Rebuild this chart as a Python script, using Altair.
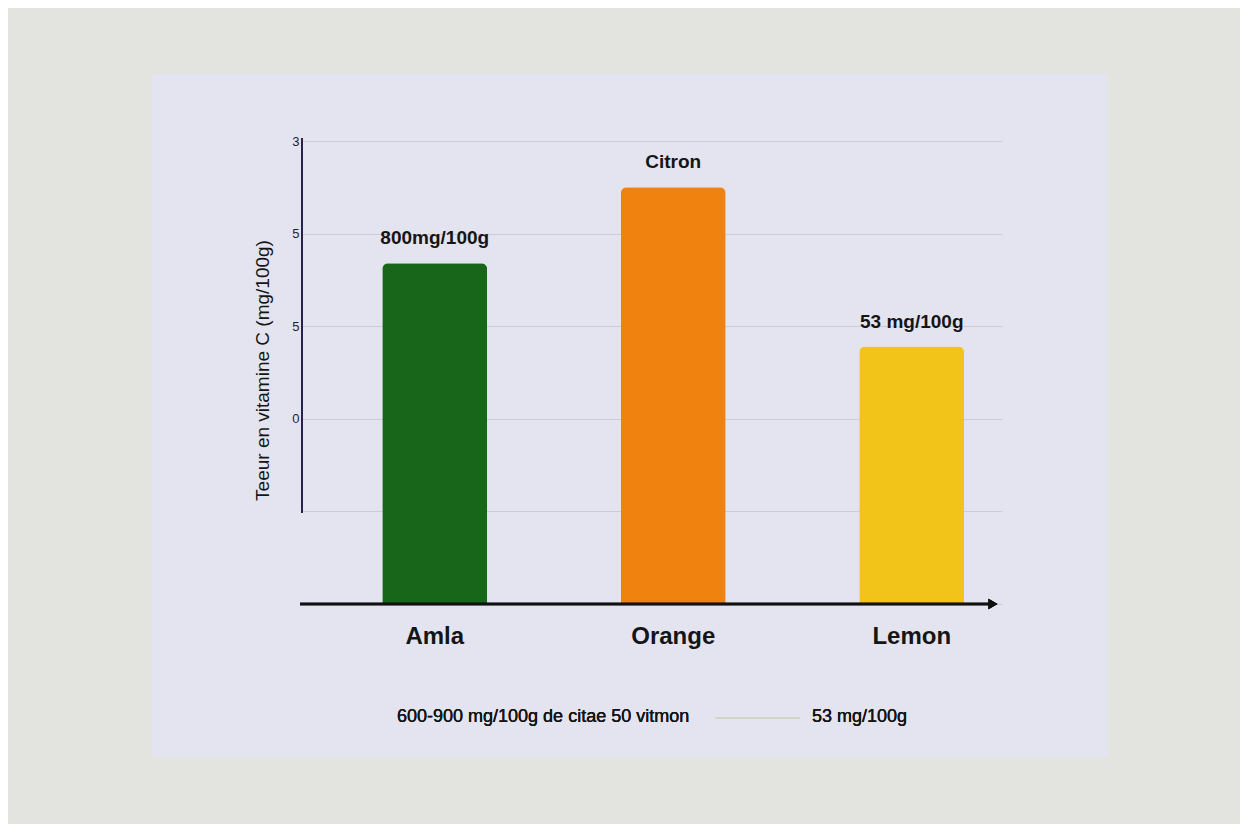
import altair as alt
import pandas as pd


'''
Data read off the picture
'''
fruits = ['Amla', 'Orange', 'Lemon']
values = [3.68, 4.5, 2.78]
bar_labels = ['800mg/100g', 'Citron', '53 mg/100g']
bar_colors = ['#17661a', '#f0820f', '#f2c318']

tick_values = [0, 1, 2, 3, 4, 5]
tick_labels = ['', '', '0', '5', '5', '3']

footer_left = '600-900 mg/100g de citae 50 vitmon'
footer_right = '53 mg/100g'

df = pd.DataFrame({
  'Fruit': fruits,
  'Valeur': values,
  'Label': bar_labels,
})

# labelExpr built from the tick lists
label_expr = "''"
for v, t in zip(tick_values, tick_labels):
  label_expr = f"datum.value == {v} ? '{t}' : ({label_expr})"

PAPER = '#e3e4ef'
TABLE = '#e3e3df'
FONT = 'Liberation Sans'

x_enc = alt.X(
  'Fruit:N',
  sort=fruits,
  title=None,
  scale=alt.Scale(paddingInner=0.56, paddingOuter=0.2475, align=0.68),
  axis=alt.Axis(
    domain=False, ticks=False, grid=False, labelAngle=0,
    labelFontSize=24, labelFont=FONT, labelFontWeight='bold',
    labelColor='#151515', labelPadding=20
  )
)

y_enc = alt.Y(
  'Valeur:Q',
  scale=alt.Scale(domain=[0, 5], nice=False),
  axis=alt.Axis(
    values=tick_values, labelExpr=label_expr, domain=False, ticks=False,
    grid=True, gridColor='#cbccd5', gridWidth=1.2,
    labelFontSize=13, labelFont=FONT, labelColor='#1c1c3a', labelPadding=3,
    title='Teeur en vitamine C (mg/100g)', titleFontSize=19, titleFont=FONT,
    titleFontWeight='normal', titleColor='#151515',
    titleAngle=-90, titleX=-40, titleY=229, titleAlign='center',
    titleBaseline='middle'
  )
)

# Table surface around the paper sheet (the sheet itself is the background)
frame_df = pd.DataFrame({
  'x': [-302, -302, -302, 806],
  'x2': [946, 946, -150, 946],
  'y': [-141, 616, -67, -67],
  'y2': [-67, 691, 616, 616],
})
frame = alt.Chart(frame_df).mark_rect(color=TABLE).encode(
  x=alt.X('x:Q', scale=None), x2='x2:Q',
  y=alt.Y('y:Q', scale=None), y2='y2:Q'
)

bars = alt.Chart(df).mark_bar(
  cornerRadiusTopLeft=6, cornerRadiusTopRight=6
).encode(
  x=x_enc,
  y=y_enc,
  color=alt.Color('Fruit:N', scale=alt.Scale(domain=fruits, range=bar_colors), legend=None)
)

text = alt.Chart(df).mark_text(
  dy=-25, fontSize=19, font=FONT, fontWeight='bold', color='#151515'
).encode(
  x=alt.X('Fruit:N', sort=fruits),
  y='Valeur:Q',
  text='Label:N'
)

# Axis lines drawn by hand: y line stops short, x line ends in an arrow
y_line = alt.Chart(df).mark_rule(color='#20204a', strokeWidth=1.5).encode(
  x=alt.value(0), y=alt.value(-3), y2=alt.value(372)
)
x_line = alt.Chart(df).mark_rule(color='#111111', strokeWidth=2.5).encode(
  x=alt.value(-2), x2=alt.value(690), y=alt.value(463)
)
arrow = alt.Chart(df).mark_point(
  shape='triangle-right', filled=True, color='#111111', size=110, opacity=1
).encode(
  x=alt.value(691), y=alt.value(463)
)

footer_a = alt.Chart(df).mark_text(
  align='left', baseline='middle', fontSize=18, font=FONT, color='#151515'
).encode(
  x=alt.value(95), y=alt.value(576), text=alt.value(footer_left)
)
footer_line = alt.Chart(df).mark_rule(color='#cfd3c2', strokeWidth=1.2).encode(
  x=alt.value(413), x2=alt.value(498), y=alt.value(577)
)
footer_b = alt.Chart(df).mark_text(
  align='left', baseline='middle', fontSize=18, font=FONT, color='#151515'
).encode(
  x=alt.value(510), y=alt.value(576), text=alt.value(footer_right)
)

chart = alt.layer(
  frame, bars, text, y_line, x_line, arrow, footer_a, footer_line, footer_b
).properties(
  width=700,
  height=463,
  background=PAPER,
  padding={'left': 294, 'top': 133, 'right': 238, 'bottom': 220},
  autosize=alt.AutoSizeParams(type='none')
).configure_view(
  stroke=None
)

chart.save("out.html", embed_options={"renderer": "svg", "actions": False})
